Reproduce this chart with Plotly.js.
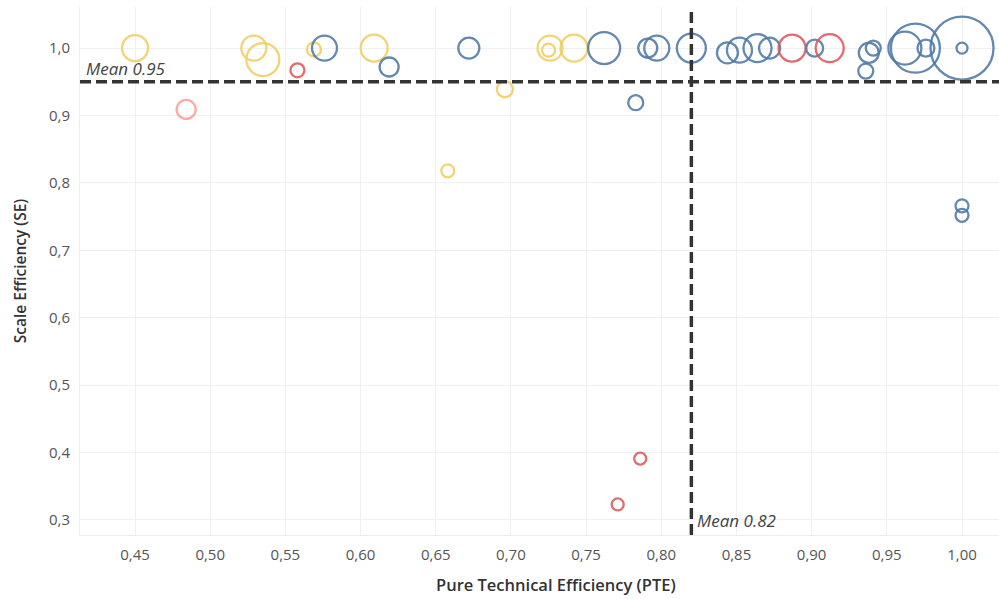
<!DOCTYPE html>
<html>
<head>
<meta charset="utf-8">
<script src="https://cdn.plot.ly/plotly-3.0.1.min.js"></script>
<style>html,body{margin:0;padding:0;background:#fff;}#chart{width:999px;height:599px;}</style>
</head>
<body>
<div id="chart"></div>
<script>
// Data
const pte = [0.450, 0.529, 0.535, 0.558, 0.569, 0.576, 0.609, 0.619, 0.484, 0.672, 0.696, 0.726, 0.725, 0.742, 0.762, 0.791, 0.797, 0.820, 0.783, 0.844, 0.852, 0.864, 0.872, 0.887, 0.902, 0.912, 0.936, 0.938, 0.941, 0.962, 0.969, 0.976, 1.000, 1.000, 1.000, 1.000, 0.786, 0.771, 0.658];
const se  = [1.000, 1.000, 0.983, 0.967, 0.998, 1.000, 1.000, 0.972, 0.909, 1.000, 0.939, 1.000, 0.997, 1.000, 1.000, 1.000, 1.000, 1.000, 0.919, 0.993, 0.997, 1.000, 1.000, 1.000, 1.000, 1.000, 0.966, 0.993, 1.000, 1.000, 1.000, 1.000, 1.000, 1.000, 0.766, 0.752, 0.391, 0.323, 0.818];
const bubble = [26, 25, 33, 14, 14, 25, 27, 19, 19, 21, 16, 25, 13, 27, 32, 19, 25, 29, 15, 21, 25, 28, 21, 27, 17, 28, 15, 20, 15, 33, 49, 17, 63, 11, 13, 13, 12, 12, 13];
const group = ["Y","Y","Y","R","Y","B","Y","B","P","B","Y","Y","Y","Y","B","B","B","B","B","B","B","B","B","R","B","R","B","B","B","B","B","B","B","B","B","B","R","R","Y"];
const xTicks = [0.45, 0.50, 0.55, 0.60, 0.65, 0.70, 0.75, 0.80, 0.85, 0.90, 0.95, 1.00];
const yTicks = [0.3, 0.4, 0.5, 0.6, 0.7, 0.8, 0.9, 1.0];
const meanPTE = 0.82;
const meanSE = 0.95;

const palette = {B: "#4e79a7", Y: "#f1ce63", R: "#e15759", P: "#ff9d9a"};
const lineColors = group.map(g => palette[g]);

const trace = {
  type: "scatter",
  mode: "markers",
  x: pte,
  y: se,
  hoverinfo: "x+y",
  marker: {
    symbol: "circle",
    size: bubble,
    sizemode: "diameter",
    opacity: 0.88,
    color: "rgba(255,255,255,0)",
    line: {color: lineColors, width: 2.3}
  }
};

const font = "'Open Sans', 'Noto Sans', sans-serif";
const layout = {
  width: 999,
  height: 599,
  margin: {l: 80, r: 0, t: 7, b: 64},
  paper_bgcolor: "#fff",
  plot_bgcolor: "#fff",
  separators: ",.",
  showlegend: false,
  font: {family: font, color: "#555"},
  xaxis: {
    range: [0.4134, 1.0246],
    tickvals: xTicks,
    tickformat: ".2f",
    showgrid: true,
    gridcolor: "#f0f0f0",
    gridwidth: 1,
    zeroline: false,
    showline: true,
    linecolor: "#ededed",
    linewidth: 1,
    ticks: "",
    ticklabelstandoff: 6,
    tickfont: {size: 15, color: "#555", family: font}
  },
  yaxis: {
    range: [0.2777, 1.061],
    tickvals: yTicks,
    tickformat: ".1f",
    showgrid: true,
    gridcolor: "#f0f0f0",
    gridwidth: 1,
    zeroline: false,
    showline: true,
    linecolor: "#ededed",
    linewidth: 1,
    ticks: "",
    ticklabelstandoff: 6,
    tickfont: {size: 15, color: "#555", family: font},
    title: {text: "Scale Efficiency (SE)", font: {size: 15.5, color: "#333", family: font, weight: 600}, standoff: 18}
  },
  shapes: [
    {type: "line", xref: "x", yref: "paper", x0: meanPTE, x1: meanPTE, y0: 0, y1: 1,
     line: {color: "#333", width: 3.5, dash: "11px,5px"}},
    {type: "line", xref: "paper", yref: "y", x0: 0, x1: 1, y0: meanSE, y1: meanSE,
     line: {color: "#333", width: 3.5, dash: "11px,5px"}}
  ],
  annotations: [
    {xref: "paper", yref: "y", x: 0.004, y: meanSE, xanchor: "left", yanchor: "bottom", yshift: 0,
     text: "<i>Mean 0.95</i>", showarrow: false, font: {size: 17, color: "#444", family: font}},
    {xref: "x", yref: "paper", x: meanPTE, y: 0, xanchor: "left", yanchor: "bottom", xshift: 4, yshift: 1,
     text: "<i>Mean 0.82</i>", showarrow: false, font: {size: 17, color: "#444", family: font}},
    {xref: "paper", yref: "paper", x: 0.518, y: 0, xanchor: "center", yanchor: "top", yshift: -36,
     text: "Pure Technical Efficiency (PTE)", showarrow: false, font: {size: 16.5, color: "#333", family: font, weight: 600}}
  ]
};

Plotly.newPlot("chart", [trace], layout, {displayModeBar: false, staticPlot: true});
</script>
</body>
</html>
